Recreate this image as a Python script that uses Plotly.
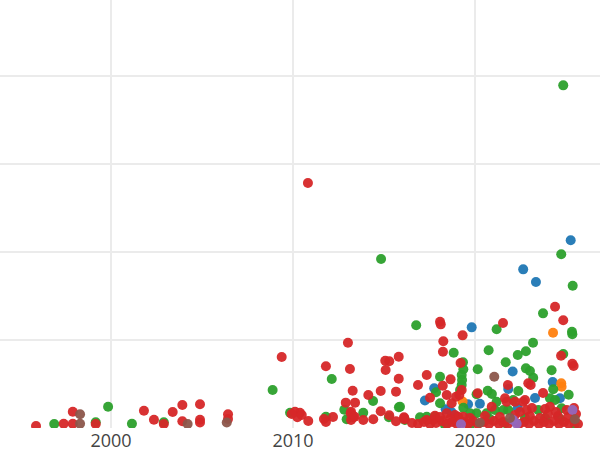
import plotly.graph_objects as go

# ---- data (year, value) per group ----
red_year = [1995.88, 1997.40, 1997.90, 1997.90, 1999.16, 2001.81, 2002.36, 2002.90, 2003.39, 2003.92,
            2003.92, 2004.89, 2004.89, 2004.89, 2006.43, 2006.43, 2009.38, 2010.82, 2013.02, 2011.81,
            2013.13, 2015.07, 2015.29, 2015.81, 2015.09, 2015.81, 2013.28, 2014.14, 2014.82, 2015.66,
            2012.90, 2013.41, 2013.19, 2014.82, 2010.11, 2010.38, 2010.24, 2010.48, 2009.93, 2010.84,
            2011.70, 2011.81, 2012.20, 2013.19, 2013.31, 2013.17, 2013.39, 2013.86, 2014.41, 2015.29,
            2015.66, 2016.10, 2016.12,
            2018.08, 2018.12, 2021.54, 2024.40, 2024.85, 2019.32, 2018.26, 2018.24, 2024.73, 2019.21,
            2025.35, 2025.42, 2017.35, 2018.66, 2016.87, 2018.23, 2019.27, 2023.06, 2021.81, 2018.45,
            2023.74, 2020.15, 2017.53, 2018.96, 2019.14, 2018.72, 2018.45, 2018.90, 2019.08, 2019.36,
            2016.12, 2017.35, 2017.71, 2022.93, 2021.65, 2021.74, 2022.20, 2022.65, 2020.92, 2022.84,
            2022.75, 2024.12, 2025.04, 2017.80, 2018.63,
            2016.54, 2016.87, 2017.20, 2017.53, 2017.86, 2018.19, 2018.46, 2018.74, 2019.01, 2019.34,
            2019.62, 2019.89, 2020.16, 2020.49, 2020.77, 2021.04, 2021.32, 2021.54, 2021.81, 2022.09,
            2022.42, 2022.69, 2022.97, 2023.24, 2023.52, 2023.79, 2024.07, 2024.34, 2024.62, 2024.89,
            2025.16, 2025.44, 2025.66,
            2018.08, 2019.73, 2020.55, 2021.37, 2022.20, 2023.02, 2023.57, 2024.01, 2024.56, 2025.11,
            2025.55, 2022.47, 2023.13, 2023.85, 2024.45, 2025.44]
red_value = [2.3, 4.9, 18.5, 4.9, 4.5, 19.7, 9.4, 4.5, 18.2, 26.1,
             7.6, 26.9, 9.4, 6.3, 15.6, 10.2, 80.7, 278.4, 96.9, 70.1,
             67.0, 76.5, 75.8, 81.0, 65.9, 56.0, 42.4, 37.5, 42.0, 41.3,
             28.8, 28.8, 18.5, 19.0, 18.5, 17.4, 12.2, 14.8, 15.9, 8.0,
             10.2, 6.8, 12.5, 9.1, 12.2, 16.7, 12.8, 9.1, 9.9, 14.4,
             7.6, 12.2, 9.9,
             120.8, 117.8, 119.3, 137.8, 122.4, 105.3, 98.5, 86.7, 82.2, 73.9,
             73.1, 70.5, 60.2, 55.3, 48.9, 48.1, 43.2, 48.9, 48.9, 37.5,
             39.8, 39.4, 34.4, 35.6, 37.5, 28.1, 16.7, 14.8, 12.8, 12.8,
             11.0, 9.1, 9.1, 50.8, 33.8, 29.9, 29.9, 29.9, 24.2, 20.5,
             31.8, 24.2, 20.5, 14.0, 10.2,
             5.7, 4.5, 6.8, 4.5, 5.7, 8.0, 4.5, 6.8, 4.5, 6.8,
             4.5, 8.0, 4.5, 6.8, 4.5, 8.0, 4.5, 6.8, 4.5, 8.0,
             4.5, 6.8, 4.5, 8.0, 4.5, 6.8, 4.5, 8.0, 4.5, 6.8,
             4.5, 8.0, 4.5,
             12.5, 11.4, 13.6, 12.5, 14.8, 13.6, 11.4, 15.9, 13.6, 12.5,
             15.9, 18.2, 22.7, 21.6, 18.2, 22.7]

green_year = [1996.88, 1999.16, 1999.84, 2001.15, 2002.90, 2008.88, 2009.84, 2012.13, 2014.40, 2012.82,
              2013.86, 2011.81, 2012.95, 2015.27, 2015.82, 2016.15, 2014.84, 2024.85, 2024.74, 2025.37,
              2023.74, 2016.77, 2021.19, 2025.33, 2025.35, 2023.19, 2018.83, 2020.75, 2022.80, 2022.35,
              2024.85, 2019.34, 2021.69, 2022.80, 2024.21, 2020.15, 2019.36, 2019.27, 2019.29, 2019.27,
              2018.08, 2017.86, 2023.02, 2023.20, 2024.30, 2022.38, 2025.15, 2020.70, 2020.93, 2020.09,
              2018.08, 2016.98, 2017.35, 2017.80, 2021.19, 2022.10, 2020.09, 2020.64, 2021.10, 2021.56,
              2021.83, 2024.12, 2024.40, 2023.48, 2024.76, 2015.88, 2019.36, 2019.73, 2019.18,
              2018.35, 2019.73, 2020.82, 2021.65, 2022.75, 2023.85, 2024.67, 2025.49]
green_value = [4.5, 6.5, 24.2, 4.9, 6.5, 43.2, 17.4, 55.7, 30.7, 20.8,
               17.4, 12.8, 9.9, 12.2, 23.5, 9.1, 192.0, 389.4, 197.4, 161.7,
               130.3, 116.7, 112.2, 109.4, 106.5, 96.9, 85.6, 88.3, 87.2, 83.0,
               84.1, 74.7, 74.7, 67.8, 65.6, 66.7, 66.7, 60.2, 54.5, 48.9,
               58.3, 40.6, 64.8, 57.2, 44.0, 42.0, 37.8, 42.4, 38.6, 38.3,
               28.1, 12.2, 12.8, 12.8, 29.9, 31.8, 16.7, 16.7, 20.5, 20.5,
               20.5, 33.8, 31.8, 20.5, 22.4, 24.2, 23.1, 16.7, 43.2,
               3.4, 3.4, 10.2, 5.7, 11.4, 11.4, 10.2, 4.5]

blue_year = [2025.26, 2022.65, 2023.35, 2019.82, 2022.07, 2017.76, 2017.25, 2018.39, 2019.62, 2020.27,
             2021.83, 2022.35, 2024.27, 2023.30, 2024.67, 2018.72]
blue_value = [213.3, 180.3, 165.9, 114.4, 64.2, 45.1, 31.3, 21.3, 26.9, 27.5,
              44.3, 22.4, 52.3, 34.1, 33.8, 17.8]

orange_year = [2024.29, 2024.74, 2024.76, 2019.32]
orange_value = [108.3, 50.8, 46.9, 30.1]

purple_year = [2019.23, 2022.29, 2025.36, 2022.09]
purple_value = [4.2, 4.9, 20.5, 9.1]

brown_year = [1998.30, 1998.30, 2004.21, 2006.36, 2021.06, 2020.27, 2021.92, 2025.49]
brown_value = [15.6, 4.9, 4.5, 6.3, 58.3, 6.0, 11.4, 9.9]

groups = [
    ("Academia", blue_year, blue_value, "#1f77b4"),
    ("Collaboration", orange_year, orange_value, "#ff7f0e"),
    ("Industry", green_year, green_value, "#2ca02c"),
    ("Research lab", red_year, red_value, "#d62728"),
    ("Government", purple_year, purple_value, "#9467bd"),
    ("Other", brown_year, brown_value, "#8c564b"),
]

fig = go.Figure()
for name, xs, ys, col in groups:
    fig.add_trace(go.Scatter(
        x=xs, y=ys, mode="markers", name=name,
        marker=dict(size=10, color=col, opacity=0.95, line=dict(width=0)),
        showlegend=False,
    ))

fig.update_layout(
    width=600, height=450,
    margin=dict(l=0, r=0, t=0, b=22, pad=0),
    paper_bgcolor="white", plot_bgcolor="white",
    font=dict(family="Open Sans, Arial, sans-serif", size=18, color="#444"),
)
fig.update_xaxes(
    range=[1993.90, 2026.87], tickvals=[2000, 2010, 2020],
    showgrid=True, gridcolor="#ebebeb", gridwidth=1.5,
    zeroline=False, showline=False, ticks="", automargin=False,
    tickfont=dict(size=18, color="#444"),
)
fig.update_yaxes(
    range=[0, 486.4], dtick=100,
    showgrid=True, gridcolor="#ebebeb", gridwidth=1.5,
    zeroline=False, showline=False, showticklabels=False, ticks="", automargin=False,
)

fig.write_html(
    "out.html",
    config={"displayModeBar": False},
    post_script="document.body.style.margin='0';document.body.style.overflow='hidden';",
)
